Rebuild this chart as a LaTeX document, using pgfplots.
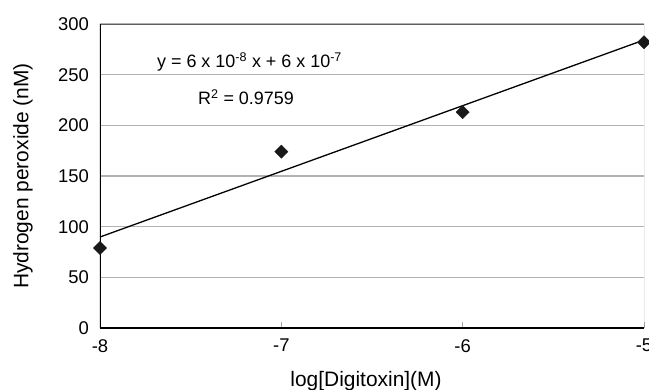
\documentclass[border=0pt]{standalone}
\usepackage{fontspec}
\setmainfont{Liberation Sans}
\usepackage{pgfplots}
\pgfplotsset{compat=1.18}
\begin{document}
\begin{tikzpicture}
\begin{axis}[
  name=ax,
  scale only axis,
  width=544bp, height=304bp,
  xmin=-8, xmax=-5, ymin=0, ymax=300,
  xtick={-8,-7,-6,-5}, ytick={0,50,100,150,200,250,300},
  xtick pos=bottom, ytick pos=left,
  major tick length=6bp,
  xtick style={draw=gray!70, line width=0.8bp},
  ytick style={draw=none},
  tick align=inside,
  axis line style={draw=none},
  ymajorgrids,
  grid style={draw=gray!60, line width=1.2bp},
  xticklabels={-8,-7,-6,-5},
  yticklabels={0,50,100,150,200,250,300},
  yticklabel style={inner sep=0pt, anchor=east, xshift=-11bp, font=\fontsize{18.5}{20}\selectfont},
  xticklabel style={inner sep=0pt, anchor=north, yshift=-11bp, font=\fontsize{18.5}{20}\selectfont},
  xlabel={log[Digitoxin](M)},
  ylabel={Hydrogen peroxide (nM)},
  label style={font=\fontsize{21}{24}\selectfont, inner sep=0pt},
  xlabel style={at={(axis description cs:0.489,-0.194)}, anchor=base},
  ylabel style={at={(axis description cs:-0.16,0.5)}, anchor=north, rotate=0},
]
\draw[gray!75!black, line width=1bp] (rel axis cs:0,1) -- (rel axis cs:1,1) -- (rel axis cs:1,0);
\draw[black, line width=1.6bp] (rel axis cs:0,0) -- (rel axis cs:1,0);
\draw[black, line width=2bp] (rel axis cs:0,0) -- (rel axis cs:0,1);
\addplot[black, line width=1.3bp, no marks] coordinates {(-8,89.8) (-5,284.2)};
\addplot[only marks, mark=diamond*, mark size=6.6bp, mark options={xscale=1.33, fill=black!90, draw=black!90}] coordinates {
(-8,79) (-7,174) (-6,213) (-5,282)
};
\node[anchor=west, inner sep=0pt, font=\fontsize{18}{20}\selectfont] at (axis cs:-7.686,262.5) {y = 6 x 10\textsuperscript{-8} x + 6 x 10\textsuperscript{-7}};
\node[anchor=west, inner sep=0pt, font=\fontsize{18}{20}\selectfont] at (axis cs:-7.46,227.5) {R\textsuperscript{2} = 0.9759};
\end{axis}
\pgfresetboundingbox
\path ([shift={(-100bp,-62bp)}]ax.south west) rectangle ([shift={(5bp,24bp)}]ax.north east);
\end{tikzpicture}
\end{document}
